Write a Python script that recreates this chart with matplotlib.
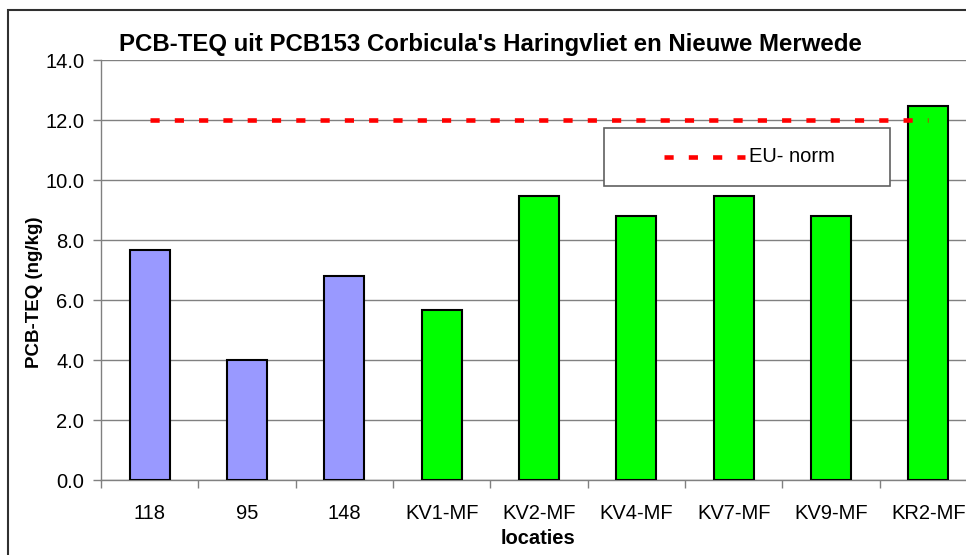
import matplotlib.pyplot as plt
from matplotlib.patches import Rectangle
from matplotlib.lines import Line2D

plt.rcParams['font.family'] = ['Liberation Sans', 'DejaVu Sans']

# data
locaties = ['118', '95', '148', 'KV1-MF', 'KV2-MF', 'KV4-MF', 'KV7-MF', 'KV9-MF', 'KR2-MF']
pcb_teq = [7.67, 4.0, 6.8, 5.67, 9.47, 8.8, 9.47, 8.8, 12.48]
groep = ['HV', 'HV', 'HV', 'NM', 'NM', 'NM', 'NM', 'NM', 'NM']
eu_norm = [12.0] * len(locaties)

kleuren = {'HV': '#9999FF', 'NM': '#00FF00'}

fig = plt.figure(figsize=(9.66, 5.55), dpi=100)
W, H = 966, 555
ax = fig.add_axes([101 / W, 75 / H, 876 / W, 420 / H])

x = list(range(len(locaties)))
ax.bar(x, pcb_teq, width=0.41, color=[kleuren[g] for g in groep],
       edgecolor='black', linewidth=1.5, zorder=3)

eu_style = dict(color='red', linewidth=3.3, linestyle=(0, (2.0, 3.3)),
                dash_capstyle='butt')
ax.plot(x, eu_norm, zorder=4, **eu_style)

ax.set_xlim(-0.5, len(locaties) - 0.5)
ax.set_ylim(0, 14)
ax.set_yticks([0, 2, 4, 6, 8, 10, 12, 14])
ax.set_yticklabels([f'{v:.1f}' for v in ax.get_yticks()], fontsize=14.5)
ax.yaxis.grid(True, color='#808080', linewidth=1)
ax.set_axisbelow(True)

ax.set_xticks(x)
ax.set_xticklabels(locaties, fontsize=14.5)
ax.set_xticks([i - 0.5 for i in x] + [len(locaties) - 0.5], minor=True)
ax.tick_params(axis='x', which='major', length=0, pad=17)
ax.tick_params(axis='x', which='minor', length=6, color='#808080', width=1)
ax.tick_params(axis='y', length=6, color='#808080', width=1, pad=6)

for s in ['top', 'right']:
    ax.spines[s].set_visible(False)
for s in ['left', 'bottom']:
    ax.spines[s].set_color('#808080')
    ax.spines[s].set_linewidth(1)

fig.text(538 / W, 1 - 539 / H, 'locaties', fontsize=14.5, fontweight='bold',
         ha='center', va='center')
fig.text(35 / W, 1 - 292 / H, 'PCB-TEQ (ng/kg)', fontsize=13.5,
         fontweight='bold', rotation=90, ha='center', va='center')

fig.text(490 / W, 1 - 44 / H,
         "PCB-TEQ uit PCB153 Corbicula's Haringvliet en Nieuwe Merwede",
         fontsize=17.3, fontweight='bold', ha='center', va='center')

# legend box
fig.patches.append(Rectangle((604 / W, 1 - 186 / H), 286 / W, 58 / H,
                             transform=fig.transFigure, facecolor='white',
                             edgecolor='#606060', linewidth=1.2, zorder=5))
fig.add_artist(Line2D([664 / W, 745 / W], [1 - 157 / H] * 2,
                      transform=fig.transFigure, zorder=6, **eu_style))
fig.text(749 / W, 1 - 157 / H, 'EU- norm', fontsize=14.5,
         ha='left', va='center', zorder=6)

# outer chart border
fig.patches.append(Rectangle((8 / W, -0.1), 1.2, 1.1 - 10 / H,
                             transform=fig.transFigure, facecolor='none',
                             edgecolor='#303030', linewidth=1.5, zorder=7))

fig.savefig('out.png', dpi=100)
